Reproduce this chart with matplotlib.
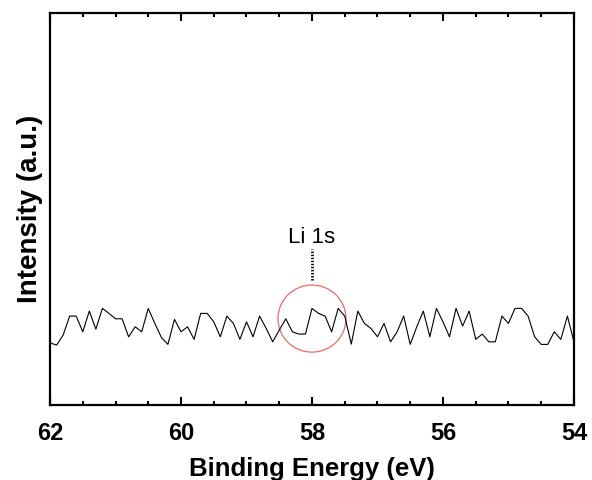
import numpy as np
import matplotlib
matplotlib.use("Agg")
import matplotlib.pyplot as plt
from matplotlib.patches import Ellipse
from matplotlib.ticker import MultipleLocator

plt.rcParams['font.family'] = ['Liberation Sans', 'DejaVu Sans']

# Binding energy (eV), 62.0 -> 54.0 in 0.1 eV steps
energy = np.round(np.linspace(62.0, 54.0, 81), 2)
intensity = [
    62.3, 60.0, 70.0, 89.0, 89.0, 73.3, 94.0, 76.0, 96.7, 91.7,
    86.3, 86.3, 68.3, 78.3, 73.3, 96.7, 81.7, 67.7, 60.7, 85.7,
    73.3, 78.3, 65.7, 91.7, 91.7, 83.3, 68.3, 89.0, 81.7, 65.7,
    83.3, 68.3, 89.0, 76.7, 63.3, 75.0, 86.3, 73.3, 71.0, 71.0,
    96.7, 91.7, 89.0, 73.3, 96.7, 89.0, 61.0, 94.0, 81.7, 76.7,
    68.3, 81.7, 63.3, 73.3, 89.0, 60.7, 78.3, 94.0, 68.3, 96.7,
    83.3, 68.3, 96.7, 79.0, 94.0, 65.7, 71.0, 63.3, 63.3, 89.0,
    81.7, 96.7, 96.7, 89.0, 68.3, 60.7, 60.7, 73.3, 65.7, 89.0,
    63.3,
]
xticks = [62, 60, 58, 56, 54]
peak_label = "Li 1s"
peak_pos = 58.0

fig = plt.figure(figsize=(5.92, 4.8), dpi=100)
ax = fig.add_axes([0.0845, 0.156, 0.885, 0.817])

ax.plot(energy, intensity, color='black', lw=0.8)

ax.set_xlim(62, 54)
ax.set_ylim(0, 392)

# red circle around peak
ax.add_patch(Ellipse((peak_pos, 86.5), width=1.04, height=67, fill=False,
                     edgecolor='#e86a6a', lw=0.9))
# dotted marker line
ax.plot([peak_pos, peak_pos], [125, 156], color='black', lw=2.0,
        linestyle=(0, (0.5, 0.6)))
ax.text(peak_pos, 162, peak_label, ha='center', va='baseline', fontsize=16)

ax.xaxis.set_major_locator(MultipleLocator(2))
ax.xaxis.set_minor_locator(MultipleLocator(0.5))
ax.set_xticks(xticks)
ax.set_xticklabels([str(t) for t in xticks])
ax.tick_params(axis='x', which='both', direction='in', top=True, bottom=True)
ax.tick_params(axis='x', which='major', length=6, width=1.5, labelsize=17, pad=12.5)
ax.tick_params(axis='x', which='minor', length=3, width=1.5)
ax.set_yticks([])
for lab in ax.get_xticklabels():
    lab.set_fontweight('bold')

for s in ax.spines.values():
    s.set_linewidth(1.6)

ax.set_xlabel('Binding Energy (eV)', fontsize=18.5, fontweight='bold', labelpad=8)
ax.set_ylabel('Intensity (a.u.)', fontsize=20, fontweight='bold', labelpad=5)

fig.savefig('out.png', dpi=100)
